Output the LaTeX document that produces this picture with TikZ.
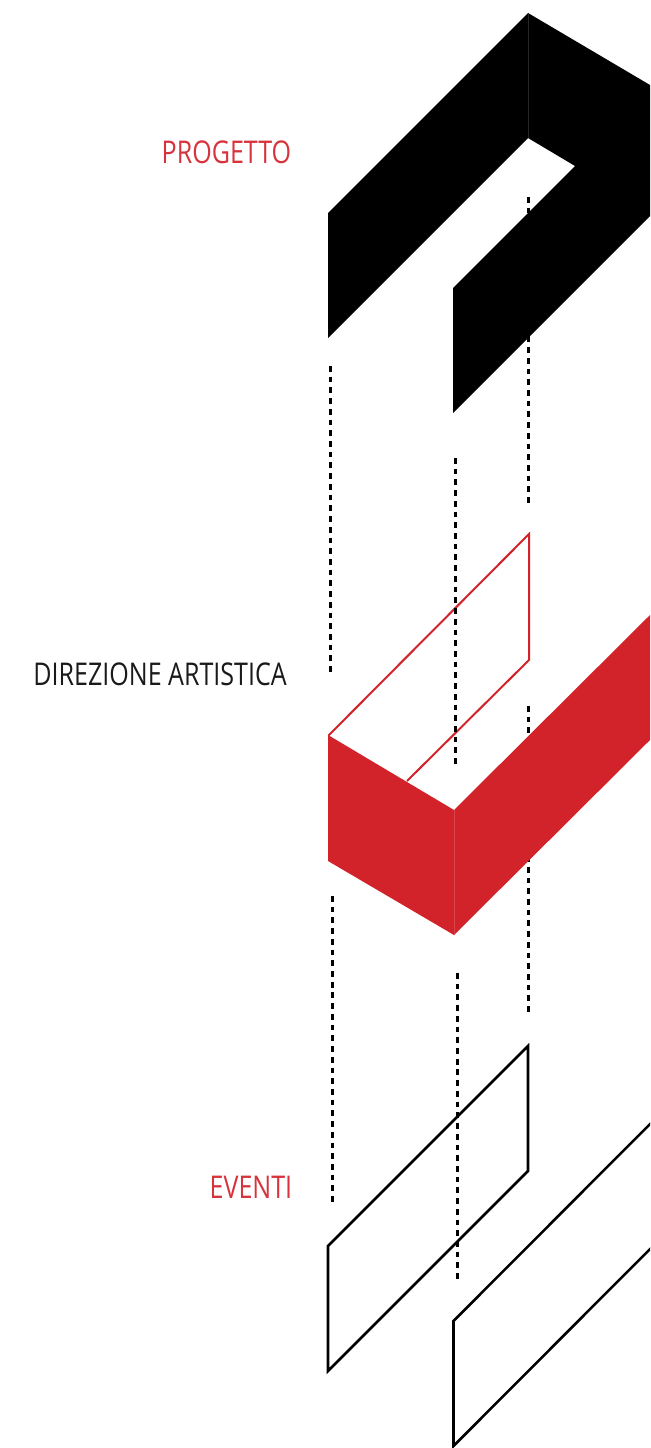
\documentclass[tikz,border=0pt]{standalone}
\usepackage{fontspec}
\setmainfont[FakeStretch=0.8]{Open Sans}
\definecolor{redfill}{HTML}{D2232A}
\definecolor{redtext}{HTML}{D7333C}
\definecolor{inktext}{HTML}{1A1A1A}
\tikzset{
  guide/.style={line width=2pt,black,dash pattern=on 4.3pt off 3.74pt},
  solidblock/.style={fill=black,draw=none},
  redblock/.style={fill=redfill,draw=none},
  seam/.style={line width=0.5pt},
  redframe/.style={draw=redfill,line width=1.5pt,line join=miter},
  blackframe/.style={draw=black,line width=1.9pt,line join=miter},
  caption/.style={anchor=base east,inner sep=0pt,font=\fontsize{23.5pt}{26pt}\selectfont}
}
\begin{document}
\begin{tikzpicture}[x=0.75pt,y=-0.75pt]
\useasboundingbox (0,0) rectangle (650,1448);
\fill[white] (0,0) rectangle (650,1448);
\begin{scope}
\clip (0,0) rectangle (650,1448);
% red outline
\draw[redframe] (407,781) -- (529,660) -- (529,534) -- (328.5,735.5);
% guides
\draw[guide] (330.5,366) -- (330.5,672);
\draw[guide] (455.5,458) -- (455.5,764);
\draw[guide] (528.5,197) -- (528.5,503);
\draw[guide] (528.5,706) -- (528.5,1012);
\draw[guide] (332.5,896) -- (332.5,1202);
\draw[guide] (457.5,973) -- (457.5,1279);
% black block
\fill[solidblock] (328,213) -- (528,13) -- (528,138) -- (328,338) -- cycle;
\fill[solidblock] (528,13) -- (650,85) -- (650,216) -- (453,413) -- (453,288) -- (575,166) -- (528,138) -- cycle;
\draw[seam,draw=black!85] (528,13) -- (528,138);
% red block
\fill[redblock] (328,735) -- (454,810) -- (454,935) -- (328,861) -- cycle;
\fill[redblock] (454,810) -- (650,615) -- (650,740) -- (454,935) -- cycle;
\draw[seam,draw=redfill!85!white] (454,810) -- (454,935);
% black outlines
\draw[blackframe] (328,1246) -- (528,1046) -- (528,1171) -- (328,1371) -- cycle;
\draw[blackframe] (660,1114) -- (453.5,1321) -- (453.5,1446) -- (660,1239);
\end{scope}
\node[caption,text=redtext] (progetto) at (291.5,164) {PROGETTO};
\node[caption,text=inktext] (direzione) at (287,685) {DIREZIONE ARTISTICA};
\node[caption,text=redtext] (eventi) at (292.5,1198) {EVENTI};
\end{tikzpicture}
\end{document}
